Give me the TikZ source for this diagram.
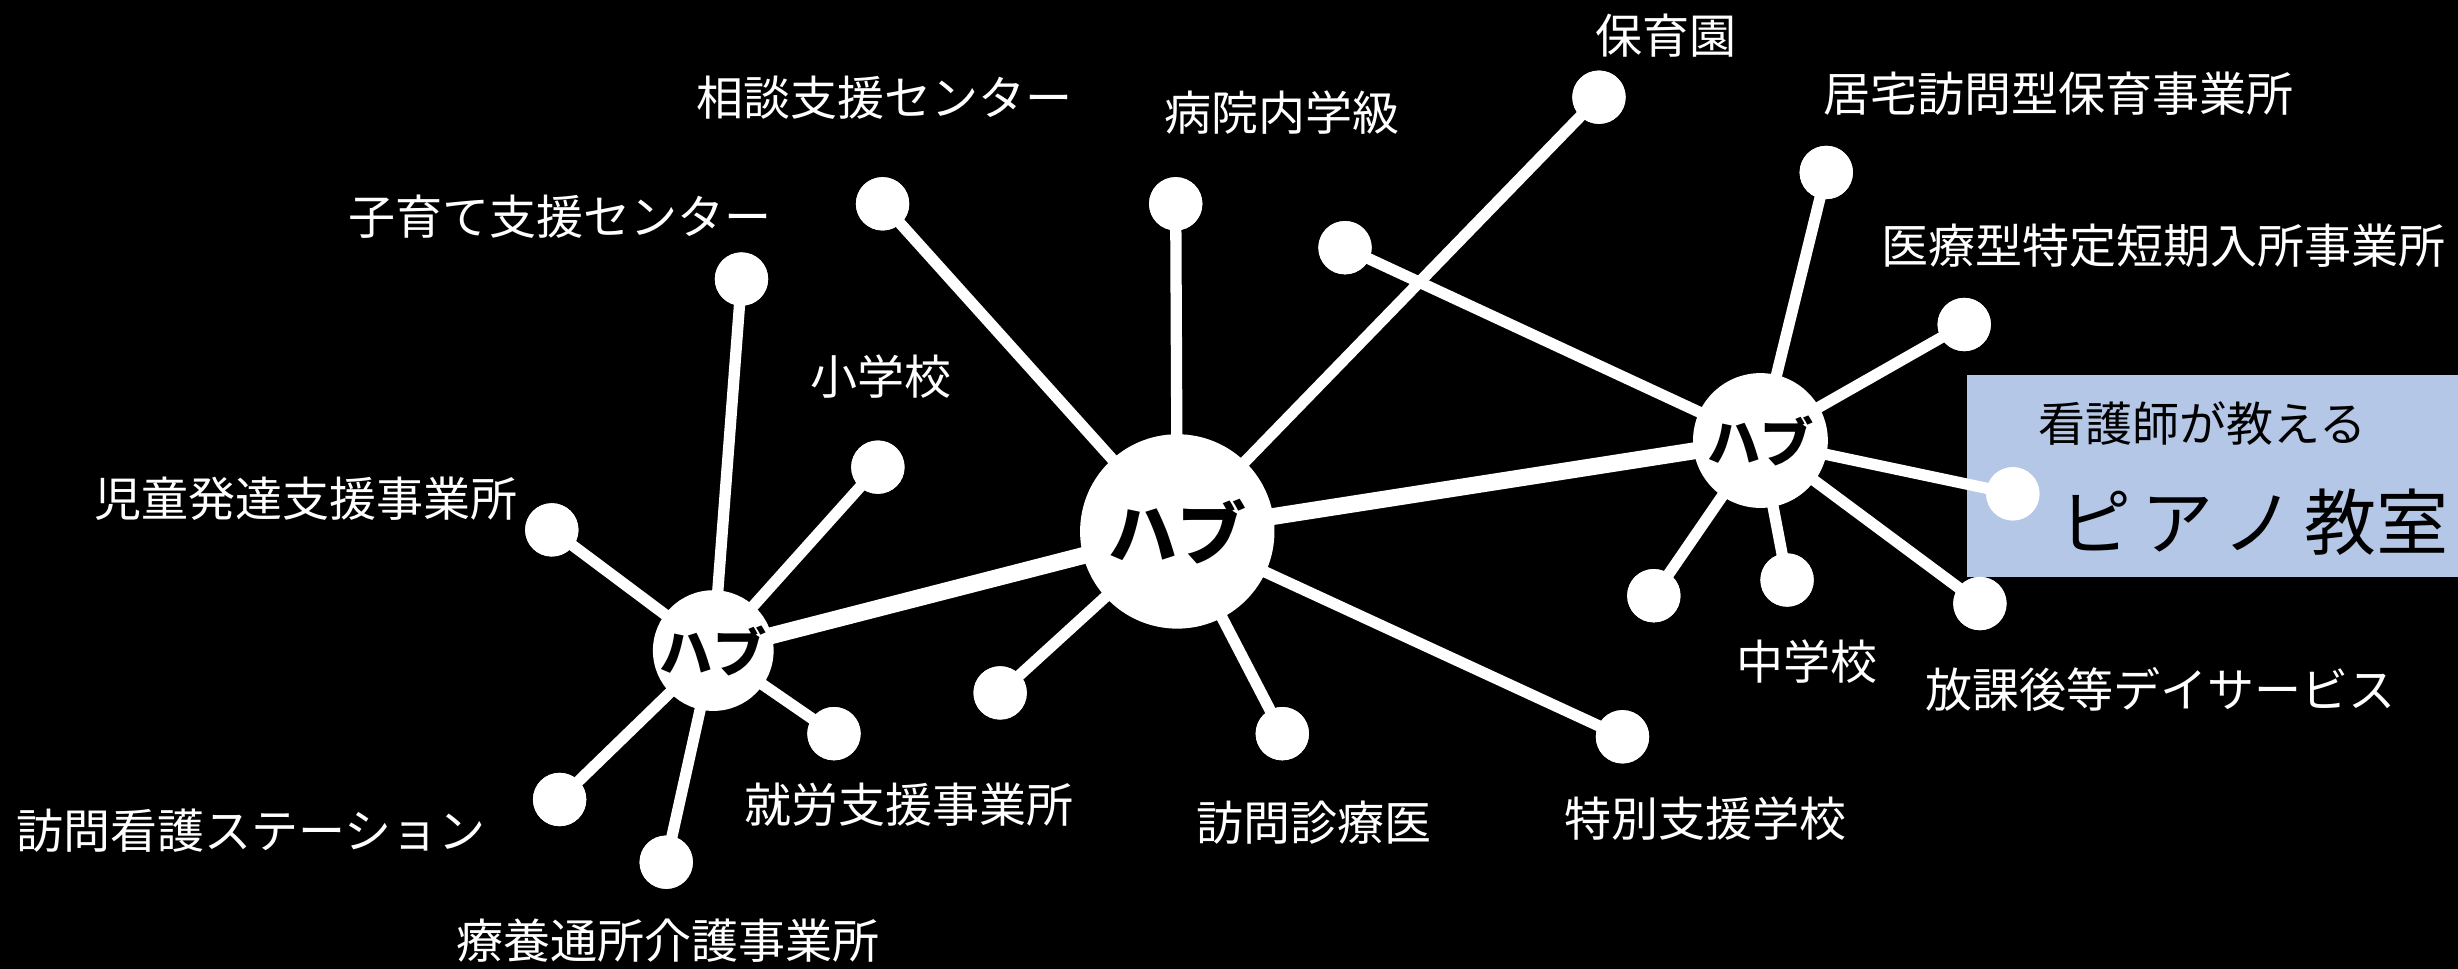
\documentclass[tikz,border=0pt]{standalone}
\usepackage{fontspec}
\setmainfont{Noto Sans CJK JP}
\definecolor{boxblue}{HTML}{B4C7E7}
\begin{document}
\begin{tikzpicture}[x=0.5pt,y=-0.5pt,
  leaf/.style={circle,fill=white,minimum size=17pt,inner sep=0pt},
  hub/.style={circle,fill=white,inner sep=0pt,font=\bfseries},
  lbl/.style={text=white,font=\fontsize{15}{15}\selectfont,inner sep=0pt},
  link/.style={white,line width=3.6pt},
  trunk/.style={white,line width=5.4pt}]
\useasboundingbox (0,0) rectangle (1568,618);
\fill[black] (0,0) rectangle (1568,618);
\fill[boxblue] (1255,239) rectangle (1568,368);

% hub positions
\coordinate (H) at (751,339);
\coordinate (L) at (455,415);
\coordinate (R) at (1123,281);

% leaves
\node[leaf] (soudan) at (563,130) {};
\node[leaf] (byoin) at (750,130) {};
\node[leaf] (hoiku) at (1020,62) {};
\node[leaf] (hc1) at (638,442) {};
\node[leaf] (houmonshin) at (818,468) {};
\node[leaf] (tokubetsu) at (1035,470) {};

\node[leaf] (kosodate) at (473,178) {};
\node[leaf] (shou) at (560,298) {};
\node[leaf] (jidou) at (352,338) {};
\node[leaf] (kango) at (357,510) {};
\node[leaf] (ryouyou) at (425,550) {};
\node[leaf] (shurou) at (532,468) {};

\node[leaf] (rc1) at (858,158) {};
\node[leaf] (kyotaku) at (1165,110) {};
\node[leaf] (iryou) at (1253,207) {};
\node[leaf] (piano) at (1284,315) {};
\node[leaf] (houkago) at (1263,385) {};
\node[leaf] (chuu) at (1140,370) {};
\node[leaf] (rc2) at (1055,380) {};

% connectors
\draw[trunk] (H) -- (L);
\draw[trunk] (H) -- (R);
\foreach \n in {soudan,byoin,hoiku,hc1,houmonshin,tokubetsu}
  \draw[link] (H) -- (\n.center);
\foreach \n in {kosodate,shou,jidou,kango,ryouyou,shurou}
  \draw[link] (L) -- (\n.center);
\foreach \n in {rc1,kyotaku,iryou,piano,houkago,chuu,rc2}
  \draw[link] (R) -- (\n.center);

% circles on top of the lines
\foreach \n in {soudan,byoin,hoiku,hc1,houmonshin,tokubetsu,kosodate,shou,jidou,kango,ryouyou,shurou,rc1,kyotaku,iryou,piano,houkago,chuu,rc2}
  \fill[white] (\n.center) circle (17);
\node[hub,minimum size=62pt,font=\bfseries\fontsize{22}{22}\selectfont] (Hc) at (H) {ハブ};
\node[hub,minimum size=38.5pt,font=\bfseries\fontsize{17}{17}\selectfont] (Lc) at (L) {ハブ};
\node[hub,minimum size=43pt,font=\bfseries\fontsize{17}{17}\selectfont] (Rc) at (R) {ハブ};

% labels
\node[lbl] (t1) at (1063,23) {保育園};
\node[lbl] (t2) at (564,62) {相談支援センター};
\node[lbl] (t3) at (818,72) {病院内学級};
\node[lbl] (t4) at (1313,60) {居宅訪問型保育事業所};
\node[lbl] (t5) at (357,138) {子育て支援センター};
\node[lbl] (t6) at (1380,157) {医療型特定短期入所事業所};
\node[lbl] (t7) at (562,240) {小学校};
\node[lbl] (t8) at (195,318) {児童発達支援事業所};
\node[lbl] (t9) at (1153,422) {中学校};
\node[lbl] (t10) at (1378,440) {放課後等デイサービス};
\node[lbl] (t11) at (580,513) {就労支援事業所};
\node[lbl] (t12) at (838,525) {訪問診療医};
\node[lbl] (t13) at (1088,522) {特別支援学校};
\node[lbl] (t14) at (160,530) {訪問看護ステーション};
\node[lbl] (t15) at (426,600) {療養通所介護事業所};
\node[inner sep=0pt,font=\fontsize{15}{15}\selectfont] (b1) at (1405,270) {看護師が教える};
\node[inner sep=0pt,font=\fontsize{23}{23}\selectfont] (b2) at (1438,333) {ピ\hspace{3pt}ア\hspace{3pt}ノ\hspace{3pt}教室};
\end{tikzpicture}
\end{document}
